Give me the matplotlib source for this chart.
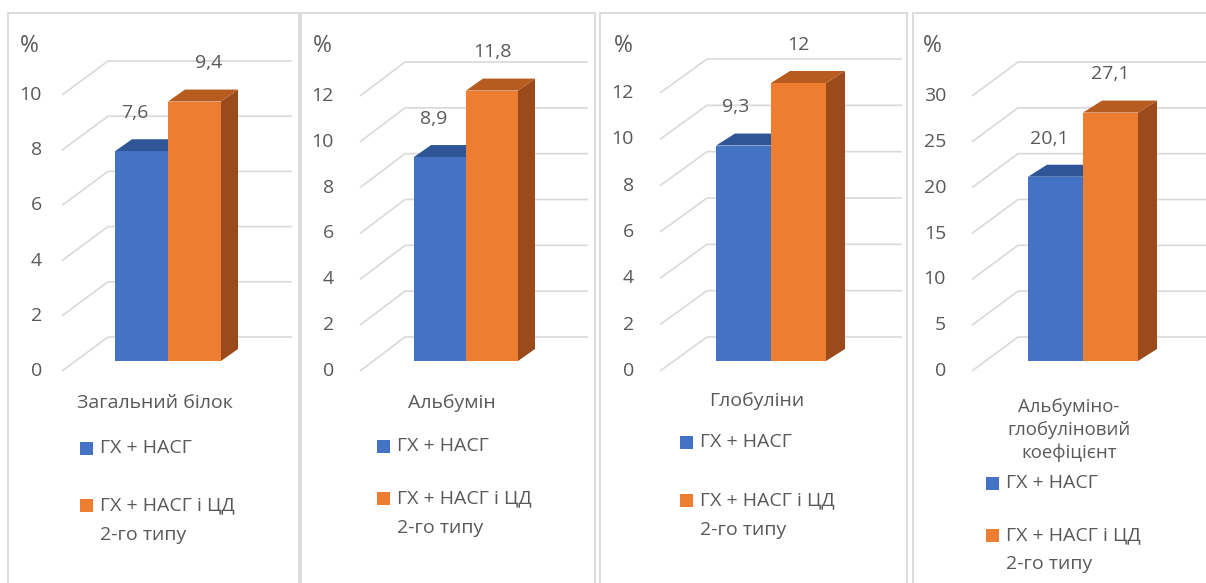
import numpy as np
import matplotlib
matplotlib.use("Agg")
import matplotlib.pyplot as plt
from matplotlib.patches import Rectangle, Polygon

plt.rcParams['font.family'] = ['Open Sans', 'DejaVu Sans']

# ---- data -------------------------------------------------------------
categories = ["Загальний білок", "Альбумін", "Глобуліни",
              "Альбуміно-\nглобуліновий\nкоефіцієнт"]
series_names = ["ГХ + НАСГ", "ГХ + НАСГ і ЦД\n2-го типу"]
group_a = [7.6, 8.9, 9.3, 20.1]
group_b = [9.4, 11.8, 12.0, 27.1]
y_max = [10, 12, 12, 30]
y_step = [2, 2, 2, 5]
unit_label = "%"

# ---- styling ----------------------------------------------------------
W, H, DPI = 1206, 583, 100
TEXT = '#595959'
GRID = '#D9D9D9'
FRONT = ['#4472C4', '#ED7D31']
TOP = ['#2F5597', '#B85B1F']
SIDE = ['#2A4C86', '#9A4A1B']
FS = 14

Y0 = 371            # pixel row of the front zero gridline
WALL_DX, WALL_DY = 46, 34
BAR_LIFT = 10       # bar front face sits slightly behind the front edge
BAR_DY = 12

# panel layout in pixels
panels = [
    dict(left=8, right=299, gx0=62, gback=108, gend=292, bx=115, bw=53, bdx=17,
         top_y=95, tick_r=42, pct_x=29, cat_x=155, cat_y=403, lab_dx=[-7, 14],
         leg_x=86, leg_y=[448, 505], leg_gap=30),
    dict(left=301, right=595, gx0=360, gback=405, gend=588, bx=414, bw=52, bdx=17,
         top_y=96, tick_r=334, pct_x=322, cat_x=452, cat_y=403, lab_dx=[-6, 0],
         leg_x=383, leg_y=[446, 498], leg_gap=30),
    dict(left=600, right=907, gx0=660, gback=707, gend=902, bx=716, bw=55, bdx=19,
         top_y=93, tick_r=634, pct_x=623, cat_x=757, cat_y=401, lab_dx=[-8, 0],
         leg_x=686, leg_y=[442, 500], leg_gap=30),
    dict(left=913, right=1230, gx0=972, gback=1018, gend=1230, bx=1028, bw=55, bdx=19,
         top_y=96, tick_r=946, pct_x=932, cat_x=1069, cat_y=407, lab_dx=[-6, 0],
         leg_x=992, leg_y=[483, 535], leg_gap=29),
]

fig = plt.figure(figsize=(W / DPI, H / DPI), dpi=DPI)
fig.patch.set_facecolor('white')


def fx(x):
    return x / W


def fy(y):
    return 1 - y / H


for i, p in enumerate(panels):
    # frame around the panel (open at the bottom edge of the image)
    fig.add_artist(Rectangle((fx(p['left']), -0.05), fx(p['right'] - p['left']),
                             fy(13) + 0.05, fill=False, edgecolor=GRID, lw=1.3,
                             transform=fig.transFigure, zorder=0))

    vmax, step = y_max[i], y_step[i]
    ppu = (Y0 - p['top_y']) / vmax
    right = min(p['right'], W)
    ax = fig.add_axes([fx(p['left']), 0, fx(right - p['left']), 1])
    ax.set_xlim(p['left'], right)
    ax.set_ylim((Y0 - H) / ppu, Y0 / ppu)
    ax.set_axis_off()
    ax.patch.set_alpha(0)

    wall = WALL_DY / ppu
    ticks = np.arange(0, vmax + step / 2, step)
    for t in ticks:
        ax.plot([p['gx0'], p['gback'], p['gend']], [t, t + wall, t + wall],
                color=GRID, lw=1.2, zorder=1, solid_capstyle='butt')
        ax.text(p['tick_r'], t, f"{t:g}", ha='right', va='center',
                color=TEXT, fontsize=FS)
    ax.text(p['pct_x'], (Y0 - 46) / ppu, unit_label, ha='center', va='center',
            color=TEXT, fontsize=16.5)

    lift = BAR_LIFT / ppu
    bdy = BAR_DY / ppu
    bdx = p['bdx']
    w = p['bw']
    vals = [group_a[i], group_b[i]]
    for j, v in enumerate(vals):
        x = p['bx'] + j * w
        z = 3 + 3 * j
        ax.bar(x, v, width=w, bottom=lift, align='edge', color=FRONT[j],
               lw=0, zorder=z + 2)
        top = lift + v
        ax.add_patch(Polygon([(x, top), (x + bdx, top + bdy),
                              (x + w + bdx, top + bdy), (x + w, top)],
                             closed=True, facecolor=TOP[j], lw=0, zorder=z + 1))
        ax.add_patch(Polygon([(x + w, lift), (x + w + bdx, lift + bdy),
                              (x + w + bdx, top + bdy), (x + w, top)],
                             closed=True, facecolor=SIDE[j], lw=0, zorder=z))
        label = f"{v:g}".replace('.', ',')
        ax.annotate(label, (x + w / 2, top), xytext=(p['lab_dx'][j] * 0.72, 27.5),
                    textcoords='offset points', ha='center', va='center',
                    color=TEXT, fontsize=FS, zorder=10)

    # category name under the bars
    multi = '\n' in categories[i]
    for k, line in enumerate(categories[i].split('\n')):
        fig.text(fx(p['cat_x']), fy(p['cat_y'] + 23 * k), line, ha='center',
                 va='center', color=TEXT, fontsize=13.4 if multi else FS)

    # legend
    for j, name in enumerate(series_names):
        ly = p['leg_y'][j]
        fig.add_artist(Rectangle((fx(p['leg_x'] - 6.5), fy(ly + 6.5)), 13 / W, 13 / H,
                                 facecolor=FRONT[j], lw=0, transform=fig.transFigure))
        for k, line in enumerate(name.split('\n')):
            fig.text(fx(p['leg_x'] + 14), fy(ly + p['leg_gap'] * k), line,
                     ha='left', va='center', color=TEXT, fontsize=FS)

fig.savefig('out.png', dpi=DPI, facecolor='white')
